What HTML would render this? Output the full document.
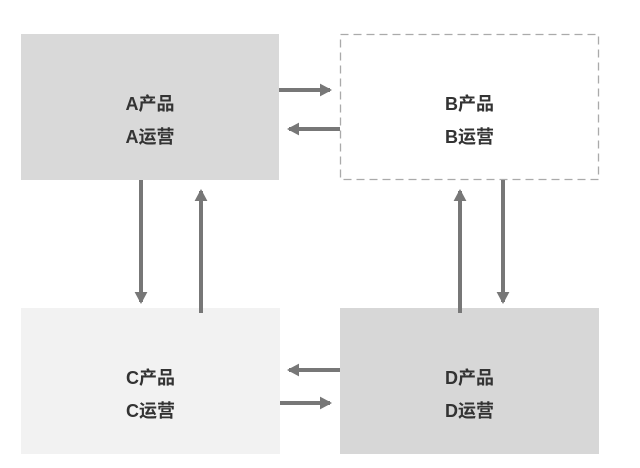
<!DOCTYPE html>
<html><head><meta charset="utf-8"><style>
body{margin:0;background:#fff;width:640px;height:468px;overflow:hidden}
.b{position:absolute;display:flex;flex-direction:column;align-items:center;justify-content:center;font-family:"Liberation Sans","Noto Sans CJK SC",sans-serif;font-weight:bold;font-size:18px;color:#333;line-height:33px;box-sizing:border-box;padding-top:28px}
</style></head><body>
<div class="b" style="left:21px;top:34px;width:258px;height:146px;background:#d9d9d9"><div>A产品</div><div>A运营</div></div>
<div class="b" style="left:340px;top:34px;width:259px;height:146px;background:#fff"><div>B产品</div><div>B运营</div></div>
<div class="b" style="left:21px;top:308px;width:259px;height:146px;background:#f2f2f2"><div>C产品</div><div>C运营</div></div>
<div class="b" style="left:340px;top:308px;width:259px;height:146px;background:#d7d7d7"><div>D产品</div><div>D运营</div></div>
<svg width="640" height="468" style="position:absolute;left:0;top:0">
<rect x="340.5" y="34.5" width="258" height="145" fill="none" stroke="#aaa" stroke-width="1.3" stroke-dasharray="8,5"/>
<defs><marker id="m" markerWidth="5" markerHeight="5" refX="2.5" refY="2" orient="auto" markerUnits="strokeWidth"><path d="M0,0.4 L3,2 L0,3.6 z" fill="#777"/></marker></defs>
<g stroke="#777" stroke-width="4" marker-end="url(#m)">
<line x1="279" y1="90" x2="330" y2="90"/>
<line x1="340" y1="129" x2="289" y2="129"/>
<line x1="141" y1="180" x2="141" y2="302"/>
<line x1="201" y1="313" x2="201" y2="191"/>
<line x1="460" y1="313" x2="460" y2="191"/>
<line x1="503" y1="180" x2="503" y2="302"/>
<line x1="340" y1="370" x2="289" y2="370"/>
<line x1="280" y1="403" x2="330" y2="403"/>
</g></svg>
</body></html>
